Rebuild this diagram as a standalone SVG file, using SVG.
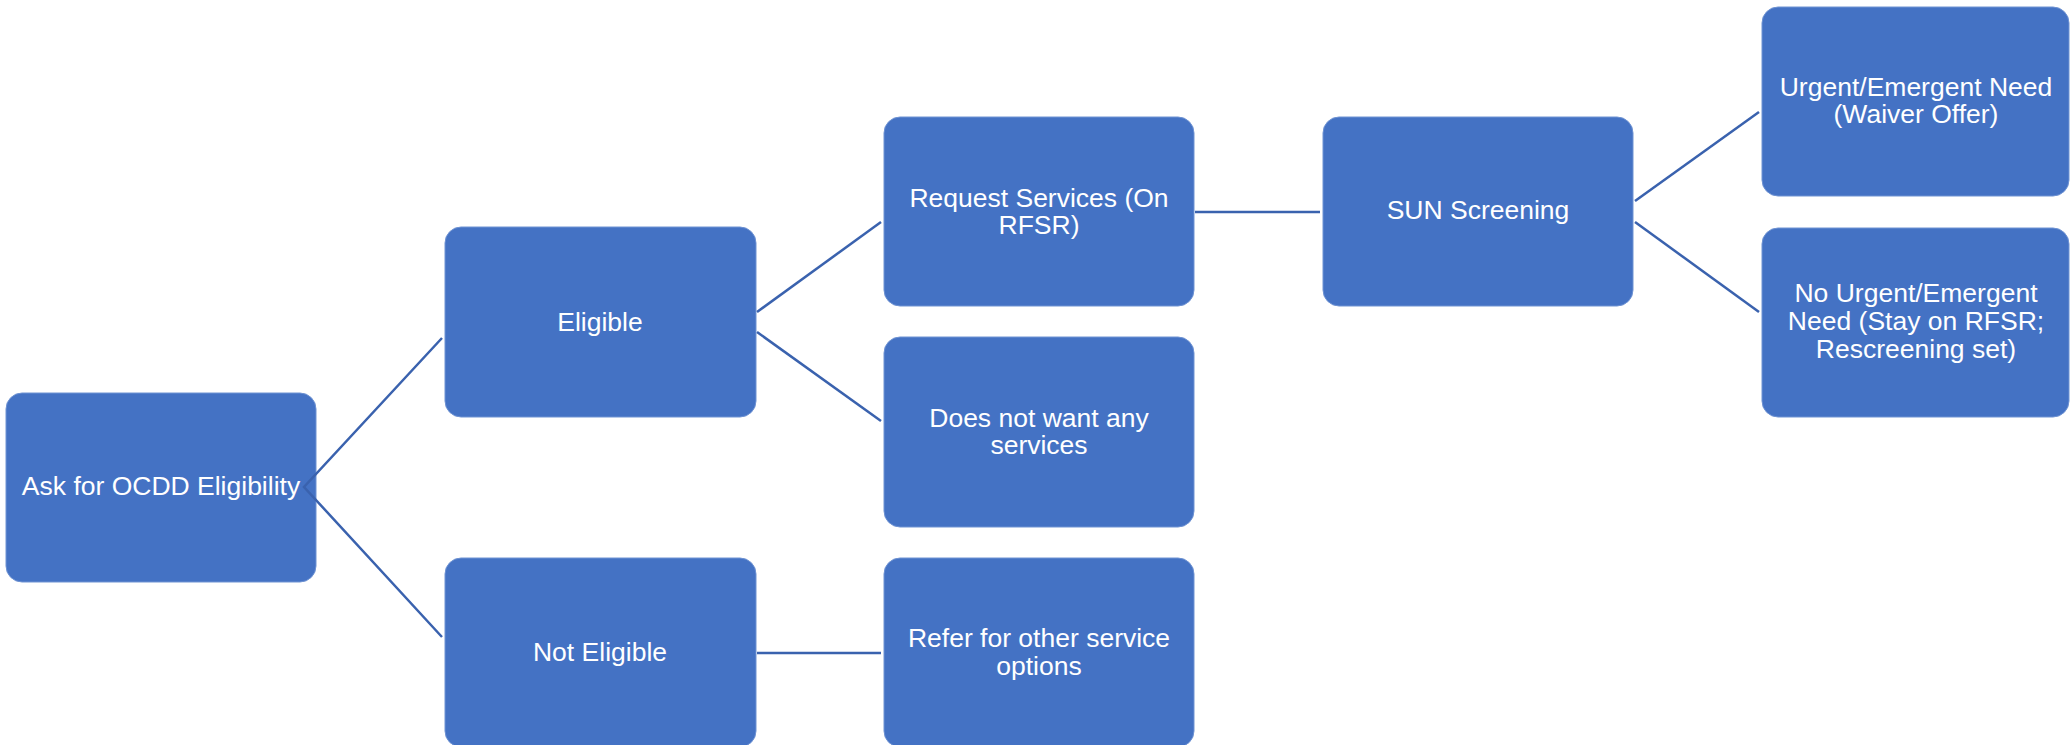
<svg xmlns="http://www.w3.org/2000/svg" width="2070" height="745" viewBox="0 0 2070 745">
<style>
.box{fill:#4472C4;stroke:#6F93D3;stroke-width:1}
.t{font-family:"Liberation Sans",Arial,sans-serif;font-size:26.5px;fill:#FFFFFF;text-anchor:middle}
.c{stroke:#3A62AE;stroke-width:2.5;fill:none}
</style>
<rect width="2070" height="745" fill="#FFFFFF"/>
<g id="ask">
<rect class="box" x="6" y="393" width="310" height="189" rx="16"/>
<text class="t" x="161" y="495">Ask for OCDD Eligibility</text>
</g>
<g id="eligible">
<rect class="box" x="445" y="227" width="311" height="190" rx="16"/>
<text class="t" x="600" y="331">Eligible</text>
</g>
<g id="not-eligible">
<rect class="box" x="445" y="558" width="311" height="189" rx="16"/>
<text class="t" x="600" y="661">Not Eligible</text>
</g>
<g id="request">
<rect class="box" x="884" y="117" width="310" height="189" rx="16"/>
<text class="t" x="1039" y="207">Request Services (On</text>
<text class="t" x="1039" y="234">RFSR)</text>
</g>
<g id="does-not-want">
<rect class="box" x="884" y="337" width="310" height="190" rx="16"/>
<text class="t" x="1039" y="427">Does not want any</text>
<text class="t" x="1039" y="454">services</text>
</g>
<g id="refer">
<rect class="box" x="884" y="558" width="310" height="189" rx="16"/>
<text class="t" x="1039" y="647">Refer for other service</text>
<text class="t" x="1039" y="675">options</text>
</g>
<g id="sun">
<rect class="box" x="1323" y="117" width="310" height="189" rx="16"/>
<text class="t" x="1478" y="219">SUN Screening</text>
</g>
<g id="urgent">
<rect class="box" x="1762" y="7" width="307" height="189" rx="16"/>
<text class="t" x="1916" y="96">Urgent/Emergent Need</text>
<text class="t" x="1916" y="123">(Waiver Offer)</text>
</g>
<g id="no-urgent">
<rect class="box" x="1762" y="228" width="307" height="189" rx="16"/>
<text class="t" x="1916" y="302">No Urgent/Emergent</text>
<text class="t" x="1916" y="330">Need (Stay on RFSR;</text>
<text class="t" x="1916" y="358">Rescreening set)</text>
</g>
<g id="connectors">
<polyline class="c" points="442,338 304,487 442,637"/>
<line class="c" x1="757" y1="312" x2="881" y2="222"/>
<line class="c" x1="757" y1="332" x2="881" y2="421"/>
<line class="c" x1="757" y1="653" x2="881" y2="653"/>
<line class="c" x1="1195" y1="212" x2="1320" y2="212"/>
<line class="c" x1="1635" y1="201" x2="1759" y2="112"/>
<line class="c" x1="1635" y1="222" x2="1759" y2="312"/>
</g>
</svg>
